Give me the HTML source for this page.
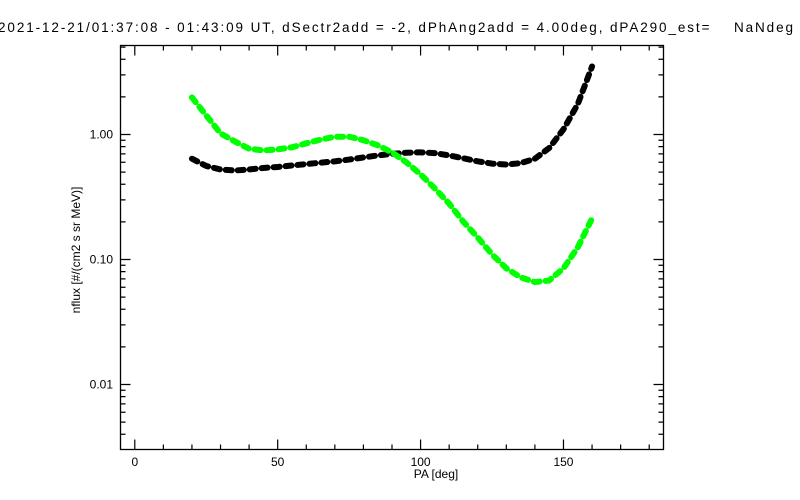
<!DOCTYPE html>
<html><head><meta charset="utf-8"><style>
html,body{margin:0;padding:0;background:#fff;}
svg{display:block;font-family:"Liberation Sans",sans-serif;}
</style></head><body>
<svg id="chart" width="800" height="500" viewBox="0 0 800 500">
<text x="-2" y="32" font-size="13.5" fill="#000" style="white-space:pre" textLength="795" lengthAdjust="spacing">2021-12-21/01:37:08 - 01:43:09 UT, dSectr2add = -2, dPhAng2add = 4.00deg, dPA290_est=    NaNdeg</text>
<rect x="120.5" y="45.5" width="543" height="404" fill="none" stroke="#000" stroke-width="1.3"/>
<g id="ticks"></g>
<g id="series"></g>
<text x="436" y="478" font-size="12" text-anchor="middle">PA [deg]</text>
<text x="0" y="0" font-size="12" text-anchor="middle" transform="translate(80,250) rotate(-90)">nflux [#/(cm2 s sr MeV)]</text>
</svg>
<script>
const paValues=[20,25,30,35,40,45,50,55,60,65,70,75,80,85,90,95,100,105,110,115,120,125,130,135,140,145,150,155,160];
const fluxBlack=[0.64,0.56,0.525,0.515,0.525,0.54,0.55,0.565,0.58,0.595,0.61,0.63,0.655,0.68,0.70,0.715,0.72,0.71,0.68,0.645,0.61,0.585,0.575,0.59,0.64,0.78,1.1,1.75,3.5];
const fluxGreen=[1.98,1.42,1.02,0.88,0.77,0.745,0.76,0.79,0.85,0.91,0.96,0.96,0.9,0.82,0.72,0.6,0.48,0.37,0.28,0.2,0.15,0.11,0.085,0.072,0.066,0.068,0.085,0.125,0.213];
const xTickLabels=[0,50,100,150];
const yTickLabels=["1.00","0.10","0.01"];
const yTickValues=[1,0.1,0.01];

const NS="http://www.w3.org/2000/svg";
const X0=120.5,X1=663.5,XMIN=-5,XMAX=185;
const Y0=45.5,Y1=449.5,LMAX=0.712,LMIN=-2.52;
function xs(v){return X0+(v-XMIN)/(XMAX-XMIN)*(X1-X0);}
function ys(v){return Y0+(LMAX-Math.log10(v))/(LMAX-LMIN)*(Y1-Y0);}
const tg=document.getElementById('ticks');
function mk(tag,attrs,parent){const e=document.createElementNS(NS,tag);for(const k in attrs)e.setAttribute(k,attrs[k]);parent.appendChild(e);return e;}
let d="";
for(let v=0;v<=180;v+=10){const x=xs(v);const L=(v%50===0)?10:5;d+=`M${x},${Y1}v${-L}M${x},${Y0}v${L}`;}
for(let e=-3;e<=0;e++){for(let m=1;m<=9;m++){const v=m*Math.pow(10,e);const lv=Math.log10(v);if(lv<LMIN||lv>LMAX)continue;const y=ys(v);const L=m===1?10:5;d+=`M${X0},${y}h${L}M${X1},${y}h${-L}`;}}
const tp=mk('path',{d:d,stroke:'#000','stroke-width':1.2,fill:'none'},tg);


xTickLabels.forEach(v=>{const t=mk('text',{x:xs(v),y:466,'font-size':12,'text-anchor':'middle'},tg);t.textContent=v;

});
yTickLabels.forEach((s,i)=>{const t=mk('text',{x:113,y:ys(yTickValues[i])+4,'font-size':12,'text-anchor':'end'},tg);t.textContent=s;

});
const sg=document.getElementById('series');
function drawSeries(vals,color,name){
  const pts=paValues.map((p,i)=>xs(p)+','+ys(vals[i])).join(' ');
  const pl=mk('polyline',{points:pts,fill:'none',stroke:color,'stroke-width':6,'stroke-linecap':'round','stroke-dasharray':'6 6'},sg);
  
  
}
drawSeries(fluxBlack,'#000','series-black');
drawSeries(fluxGreen,'#00ff00','series-green');
</script>
</body></html>
